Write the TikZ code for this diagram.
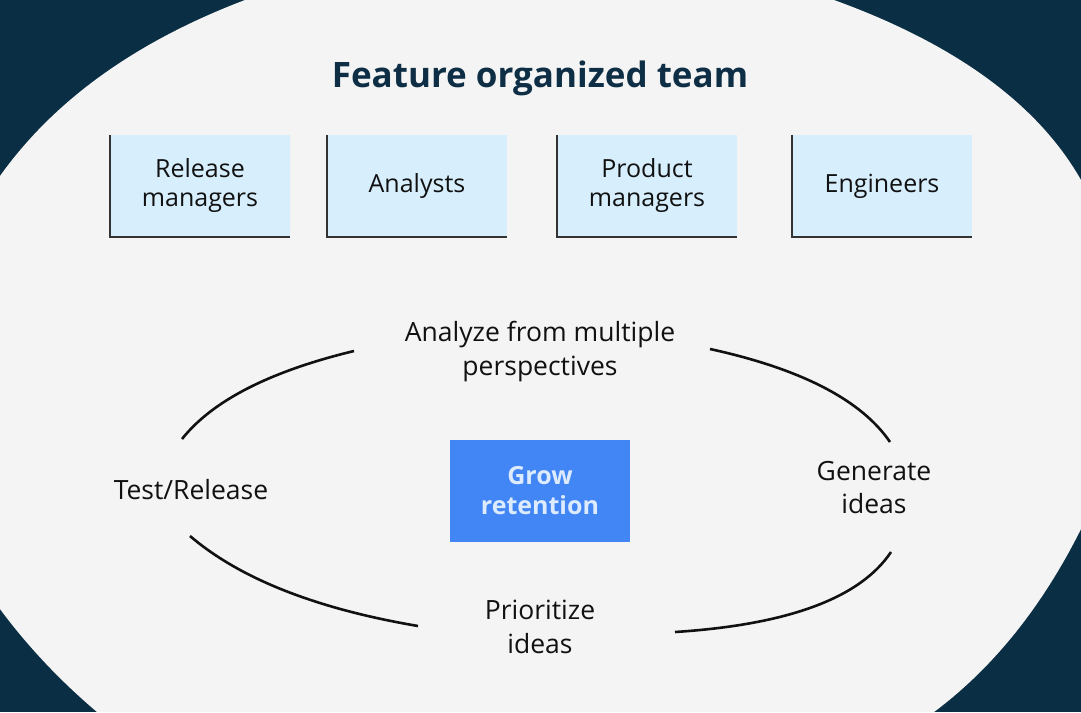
\documentclass[tikz,border=0pt]{standalone}
\usepackage{fontspec}
\setmainfont{Open Sans}
\definecolor{navy}{HTML}{0A2E43}
\definecolor{paper}{HTML}{F4F4F4}
\definecolor{boxblue}{HTML}{D7EEFD}
\definecolor{edgegray}{HTML}{333333}
\definecolor{gblue}{HTML}{4285F4}
\definecolor{goaltext}{HTML}{DCEBFD}
\definecolor{ink}{HTML}{111111}
\definecolor{titleink}{HTML}{0D2E44}
\begin{document}
\begin{tikzpicture}[x=1pt,y=-1pt,
  teambox/.style={fill=boxblue, minimum width=180pt, minimum height=102pt, inner sep=0pt, align=center, font=\fontsize{25}{29}\selectfont, text=ink},
  boxedge/.style={draw=edgegray, line width=2.5pt},
  stage/.style={align=center, inner sep=0pt, font=\fontsize{26.5}{33.5}\selectfont, text=ink},
  goal/.style={fill=gblue, minimum width=180pt, minimum height=102pt, inner sep=0pt, align=center, font=\fontsize{25}{30}\selectfont\bfseries, text=goaltext},
  cyc/.style={draw=ink, line width=2.6pt},
  titletext/.style={font=\fontsize{35}{40}\selectfont\bfseries, text=titleink, anchor=base, inner sep=0pt}
]
\useasboundingbox (0,0) rectangle (1081,712);
% background
\fill[navy] (0,0) rectangle (1081,712);
\fill[paper] (245,0) -- (834,0) .. controls (955.3,44) and (1037.7,104) .. (1081,180)
  -- (1081,529) .. controls (1042.2,606.6) and (993.2,667.7) .. (934,712)
  -- (97,712) .. controls (59.7,680.3) and (27.4,646) .. (0,609)
  -- (0,176) .. controls (54.2,100.1) and (135.9,41.5) .. (245,0) -- cycle;
% title
\node[titletext] (title) at (540,87) {Feature organized team};
% team boxes
\node[teambox] (b1) at (200,186) {Release\\managers};
\node[teambox] (b2) at (417,186) {Analysts};
\node[teambox] (b3) at (647,186) {Product\\managers};
\node[teambox] (b4) at (882,186) {Engineers};
\foreach \b in {b1,b2,b3,b4}{
  \draw[boxedge] (\b.north west) -- (\b.south west) -- (\b.south east);
}
% cycle
\node[goal] (goal) at (540,491) {Grow\\retention};
\node[stage] (analyze) at (540,351.5) {Analyze from multiple\\perspectives};
\node[stage, anchor=base] (test) at (191,499) {Test/Release};
\node[stage] (generate) at (874,487.3) {Generate\\ideas};
\node[stage] (prior) at (540,627) {Prioritize\\ideas};
% arc end points
\coordinate (tl-s) at (182,439);
\coordinate (tl-e) at (354,351);
\coordinate (tr-s) at (710,349);
\coordinate (tr-e) at (890,442);
\coordinate (br-s) at (891,552);
\coordinate (br-e) at (675,632);
\coordinate (bl-s) at (418,626);
\coordinate (bl-e) at (190,536);
\draw[cyc] (tl-s) .. controls (212.5,400.6) and (270,371.3) .. (tl-e);
\draw[cyc] (tr-s) .. controls (801.3,369) and (861.3,400) .. (tr-e);
\draw[cyc] (br-s) .. controls (860.3,598) and (788.3,624.7) .. (br-e);
\draw[cyc] (bl-s) .. controls (316,608.7) and (240,578.7) .. (bl-e);
\end{tikzpicture}
\end{document}
